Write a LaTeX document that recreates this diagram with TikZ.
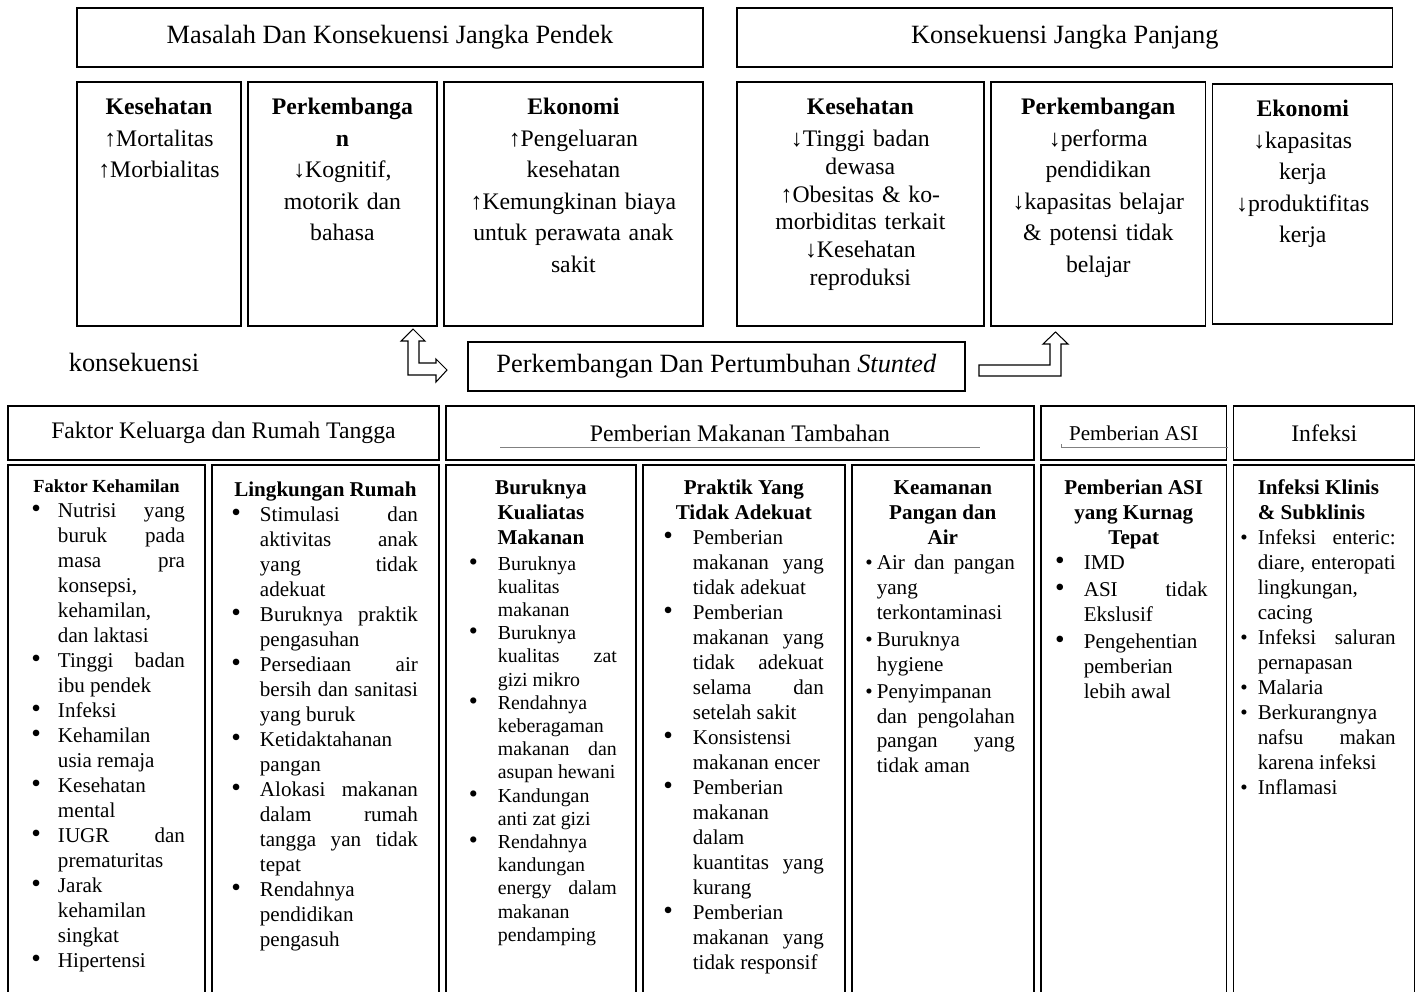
\documentclass[tikz,border=0pt]{standalone}
\usepackage{fontspec}
\setmainfont{Liberation Serif}
\usepackage{graphicx}
\usepackage{enumitem}
\usetikzlibrary{positioning}

\newlist{butir}{itemize}{1}
\setlist[butir]{label=\scalebox{1.3}{\textbullet}, labelwidth=2mm, topsep=0pt, partopsep=0pt, parsep=0pt, itemsep=0pt}
\hyphenpenalty=10000
\exhyphenpenalty=10000
\tolerance=10000
\emergencystretch=2em
\hbadness=10000

\begin{document}
\begin{tikzpicture}[
  x=0.02cm, y=0.02cm,
  node distance=1.4mm and 1.4mm,
  kotak/.style={draw, line width=.8pt, inner sep=0pt, outer sep=0pt},
  judul/.style={kotak, minimum height=11.8mm, font=\fontsize{15}{18}\selectfont},
  subjudul/.style={kotak, minimum height=10.8mm, font=\fontsize{13.5}{16}\selectfont},
  isiatas/.style={kotak, anchor=north west, align=center, text height=6.6mm, text depth=42.2mm, font=\fontsize{13.5}{17.9}\selectfont},
  isibawah/.style={kotak, anchor=north west, align=justify, text height=6mm, text depth=100mm, font=\fontsize{12}{14.2}\selectfont},
  blokpanah/.style={draw, line width=.6pt},
  garistipis/.style={draw=black!50, line width=.5pt}
]
\useasboundingbox (0,0) rectangle (1417,-991);
\clip (0,0) rectangle (1417,-991);

% konsekuensi jangka pendek dan panjang
\node[judul, minimum width=125.2mm, anchor=north west] (pendek) at (77,-8) {Masalah Dan Konsekuensi Jangka Pendek};
\node[judul, minimum width=131.2mm, right=6.8mm of pendek] (panjang) {Konsekuensi Jangka Panjang};

\node[isiatas, text width=32.8mm, below=3mm of pendek.south west, anchor=north west] (k1) {\textbf{Kesehatan}\\↑Mortalitas\\↑Morbialitas};
\node[isiatas, text width=37.8mm, right=of k1.north east, anchor=north west] (p1) {\textbf{Perkembanga}\\\textbf{n}\\↓Kognitif,\\motorik dan\\bahasa};
\node[isiatas, text width=51.8mm, right=of p1.north east, anchor=north west] (e1) {\textbf{Ekonomi}\\↑Pengeluaran\\kesehatan\\↑Kemungkinan biaya\\untuk perawata anak\\sakit};

\node[isiatas, text width=49.4mm, below=3mm of panjang.south west, anchor=north west, font=\fontsize{13.5}{15.8}\selectfont] (k2) {\textbf{Kesehatan}\\[2.2pt]↓Tinggi badan\\dewasa\\↑Obesitas \& ko-\\morbiditas terkait\\↓Kesehatan\\reproduksi};
\node[isiatas, text width=43mm, right=of k2.north east, anchor=north west] (p2) {\textbf{Perkembangan}\\↓performa\\pendidikan\\↓kapasitas belajar\\\& potensi tidak\\belajar};
\node[isiatas, text width=36mm, right=of p2.north east, anchor=north west, yshift=-0.4mm, text depth=41.4mm] (e2) {\textbf{Ekonomi}\\↓kapasitas\\kerja\\↓produktifitas\\kerja};

% stunted
\node[font=\fontsize{15}{18}\selectfont, inner sep=0pt] (konsekuensi) at (134,-362) {konsekuensi};
\node[judul, minimum width=99.4mm, minimum height=9.8mm, anchor=north west] (stunted) at (468,-342) {Perkembangan Dan Pertumbuhan \textit{Stunted}};

\draw[blokpanah] (413,-329) -- (425,-341) -- (419,-341) -- (419,-363) -- (436,-363) -- (436,-359)
  -- (447,-370) -- (436,-382) -- (436,-375) -- (408,-375) -- (408,-341) -- (401,-341) -- cycle;
\draw[blokpanah] (979,-365) -- (1050,-365) -- (1050,-344) -- (1043,-344) -- (1055.5,-332) -- (1068,-344)
  -- (1061,-344) -- (1061,-376) -- (979,-376) -- cycle;

% faktor penyebab
\node[subjudul, minimum width=86.2mm, anchor=north west] (hKeluarga) at (8,-406) {Faktor Keluarga dan Rumah Tangga};
\node[subjudul, minimum width=117.6mm, right=of hKeluarga] (hMakanan) {Pemberian Makanan Tambahan};
\node[subjudul, minimum width=37.2mm, right=of hMakanan, font=\fontsize{12}{14}\selectfont] (hASI) {Pemberian ASI};
\node[subjudul, minimum width=36.2mm, right=of hASI] (hInfeksi) {Infeksi};
\draw[garistipis] (500,-447) -- (980,-447);
\draw[garistipis] (1061,-444) -- (1061,-447) -- (1228,-447);

\node[isibawah, text width=39.4mm, text height=5.6mm, text depth=100.4mm, below=1mm of hKeluarga.south west, anchor=north west] (b1) {%
  {\centering\fontsize{10.5}{12}\selectfont\bfseries Faktor Kehamilan\par}
  \begin{butir}[leftmargin=10mm, labelsep=3.4mm, rightmargin=4mm]
  \item Nutrisi yang buruk pada masa pra konsepsi, kehamilan, dan laktasi
  \item Tinggi badan ibu pendek
  \item Infeksi
  \item Kehamilan usia remaja
  \item Kesehatan mental
  \item IUGR dan prematuritas
  \item Jarak kehamilan singkat
  \item Hipertensi
  \end{butir}};
\node[isibawah, text width=45.4mm, text height=6.4mm, text depth=99.6mm, right=of b1.north east, anchor=north west] (b2) {%
  {\centering\bfseries Lingkungan Rumah\par}
  \begin{butir}[leftmargin=9.6mm, labelsep=3.8mm, rightmargin=4.2mm]
  \item Stimulasi dan aktivitas anak yang tidak\linebreak adekuat
  \item Buruknya praktik pengasuhan
  \item Persediaan air bersih dan sanitasi yang buruk
  \item Ketidaktahanan pangan
  \item Alokasi makanan dalam rumah tangga yan tidak tepat
  \item Rendahnya pendidikan pengasuh
  \end{butir}};
\node[isibawah, text width=38mm, right=of b2.north east, anchor=north west] (b3) {%
  {\centering\bfseries Buruknya\\Kualiatas\\Makanan\par}
  \fontsize{11.3}{13.2}\selectfont
  \begin{butir}[leftmargin=10.4mm, labelsep=4mm, rightmargin=3.8mm, topsep=1.2pt]
  \item Buruknya kualitas makanan
  \item Buruknya kualitas zat gizi mikro
  \item Rendahnya keberagaman makanan dan asupan hewani
  \item Kandungan anti zat gizi
  \item Rendahnya kandungan energy dalam makanan pendamping
  \end{butir}};
\node[isibawah, text width=40.4mm, right=of b3.north east, anchor=north west] (b4) {%
  {\centering\bfseries Praktik Yang\\Tidak Adekuat\par}
  \begin{butir}[leftmargin=10mm, labelsep=4mm, rightmargin=4.2mm]
  \item Pemberian makanan yang tidak adekuat
  \item Pemberian makanan yang tidak adekuat selama dan setelah sakit
  \item Konsistensi makanan encer
  \item Pemberian makanan dalam kuantitas yang kurang
  \item Pemberian makanan yang tidak responsif
  \end{butir}};
\node[isibawah, text width=36.4mm, right=of b4.north east, anchor=north west] (b5) {%
  {\centering\bfseries Keamanan\\Pangan dan\\Air\par}
  \begin{butir}[label=\textbullet, leftmargin=5mm, labelsep=0.8mm, rightmargin=3.8mm, itemsep=1pt]
  \item Air dan pangan\linebreak yang terkontaminasi
  \item Buruknya hygiene
  \item Penyimpanan dan pengolahan pangan yang tidak aman
  \end{butir}};
\node[isibawah, text width=37.2mm, right=of b5.north east, anchor=north west] (b6) {%
  {\centering\bfseries Pemberian ASI\\yang Kurnag\\Tepat\par}
  \begin{butir}[leftmargin=8.6mm, labelsep=3.8mm, rightmargin=3.8mm, itemsep=1pt]
  \item IMD
  \item ASI tidak Ekslusif
  \item Pengehentian pemberian lebih awal
  \end{butir}};
\node[isibawah, text width=36.2mm, right=of b6.north east, anchor=north west] (b7) {%
  {\raggedright\leftskip=4.8mm\bfseries Infeksi Klinis\\\& Subklinis\par}
  \begin{butir}[label=\textbullet, leftmargin=4.8mm, labelsep=2mm, rightmargin=3.8mm]
  \item Infeksi enteric: diare, enteropati lingkungan, cacing
  \item Infeksi saluran pernapasan
  \item Malaria
  \item Berkurangnya nafsu makan karena infeksi
  \item Inflamasi
  \end{butir}};
\end{tikzpicture}
\end{document}
